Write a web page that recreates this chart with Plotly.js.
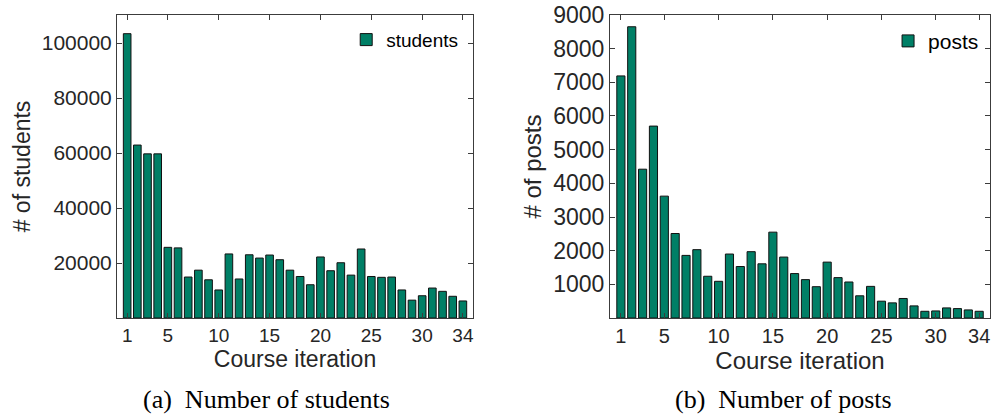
<!DOCTYPE html>
<html>
<head>
<meta charset="utf-8">
<script src="https://cdn.plot.ly/plotly-3.0.1.min.js"></script>
<style>
html,body{margin:0;padding:0;background:#fff;}
#chart{width:994px;height:415px;}
</style>
</head>
<body>
<div id="chart"></div>
<script>
const iterations = Array.from({length: 34}, (_, i) => i + 1);
const students = [103400, 62900, 59700, 59700, 25700, 25500, 14900, 17400, 13900, 10200,
                  23300, 14200, 23000, 21800, 22900, 21200, 17400, 15100, 12100, 22200,
                  17200, 20100, 15600, 25100, 15100, 14800, 14900, 10200, 6500, 8100,
                  10900, 9700, 7900, 6200];
const posts = [7190, 8650, 4420, 5700, 3620, 2510, 1860, 2030, 1240, 1090,
               1900, 1530, 1970, 1610, 2550, 1810, 1320, 1140, 930, 1660,
               1200, 1070, 660, 940, 500, 450, 580, 360, 200, 210,
               300, 280, 240, 200];
const xTickVals = [1, 5, 10, 15, 20, 25, 30, 34];
const studentTicks = [20000, 40000, 60000, 80000, 100000];
const postTicks = [1000, 2000, 3000, 4000, 5000, 6000, 7000, 8000, 9000];

const barColor = '#007f66';
const frameColor = '#3c3c3c';
const textColor = '#262626';
const sans = 'Liberation Sans, Arial, Helvetica, sans-serif';
const serif = 'Liberation Serif, Times New Roman, serif';

const traces = [
  {type: 'bar', x: iterations, y: students, name: 'students', xaxis: 'x', yaxis: 'y',
   marker: {color: barColor, line: {color: '#111', width: 1}}, legend: 'legend'},
  {type: 'bar', x: iterations, y: posts, name: 'posts', xaxis: 'x2', yaxis: 'y2',
   marker: {color: barColor, line: {color: '#111', width: 1}}, legend: 'legend2'}
];

function xAxis(domain, anchor, fs, tfs) {
  return {
    domain: domain, anchor: anchor, range: [0, 35],
    tickmode: 'array', tickvals: xTickVals, ticktext: xTickVals.map(String),
    ticks: 'inside', ticklen: 5, tickcolor: frameColor, tickwidth: 1,
    showline: true, linecolor: frameColor, linewidth: 1, mirror: 'ticks',
    showgrid: false, zeroline: false,
    tickfont: {family: sans, size: fs, color: textColor},
    title: {text: 'Course iteration', font: {family: sans, size: tfs, color: textColor}, standoff: 1},
    automargin: false
  };
}
function yAxis(domain, anchor, range, ticks, fs, title, tfs) {
  return {
    domain: domain, anchor: anchor, range: range,
    tickmode: 'array', tickvals: ticks, ticktext: ticks.map(String),
    ticks: 'inside', ticklen: 5, tickcolor: frameColor, tickwidth: 1,
    showline: true, linecolor: frameColor, linewidth: 1, mirror: 'ticks',
    showgrid: false, zeroline: false,
    tickfont: {family: sans, size: fs, color: textColor},
    title: {text: title, font: {family: sans, size: tfs, color: textColor}, standoff: 4},
    automargin: false
  };
}

const yDom = [0.2337, 0.9639];
const layout = {
  width: 994, height: 415,
  margin: {l: 0, r: 0, t: 0, b: 0},
  paper_bgcolor: '#fff', plot_bgcolor: '#fff',
  bargap: 0.25,
  xaxis: xAxis([0.1177, 0.4759], 'y', 19, 23),
  yaxis: yAxis(yDom, 'x', [0, 110200], studentTicks, 21, '# of students', 23),
  xaxis2: xAxis([0.6137, 0.9960], 'y2', 20, 24),
  yaxis2: yAxis(yDom, 'x2', [0, 9000], postTicks, 23, '# of posts', 24),
  legend: {x: 0.466, y: 0.95, xanchor: 'right', yanchor: 'top', bgcolor: 'rgba(0,0,0,0)',
           font: {family: sans, size: 19, color: '#000'}},
  legend2: {x: 0.990, y: 0.95, xanchor: 'right', yanchor: 'top', bgcolor: 'rgba(0,0,0,0)',
            font: {family: sans, size: 21, color: '#000'}},
  showlegend: true,
  annotations: [
    {text: '(a)\u00a0\u00a0Number of students', xref: 'paper', yref: 'paper', x: 266/994, y: 1 - 399/415,
     xanchor: 'center', yanchor: 'middle', showarrow: false, font: {family: serif, size: 26, color: '#000'}},
    {text: '(b)\u00a0\u00a0Number of posts', xref: 'paper', yref: 'paper', x: 783/994, y: 1 - 399/415,
     xanchor: 'center', yanchor: 'middle', showarrow: false, font: {family: serif, size: 26, color: '#000'}}
  ]
};

Plotly.newPlot('chart', traces, layout, {staticPlot: true, displayModeBar: false});
</script>
</body>
</html>
